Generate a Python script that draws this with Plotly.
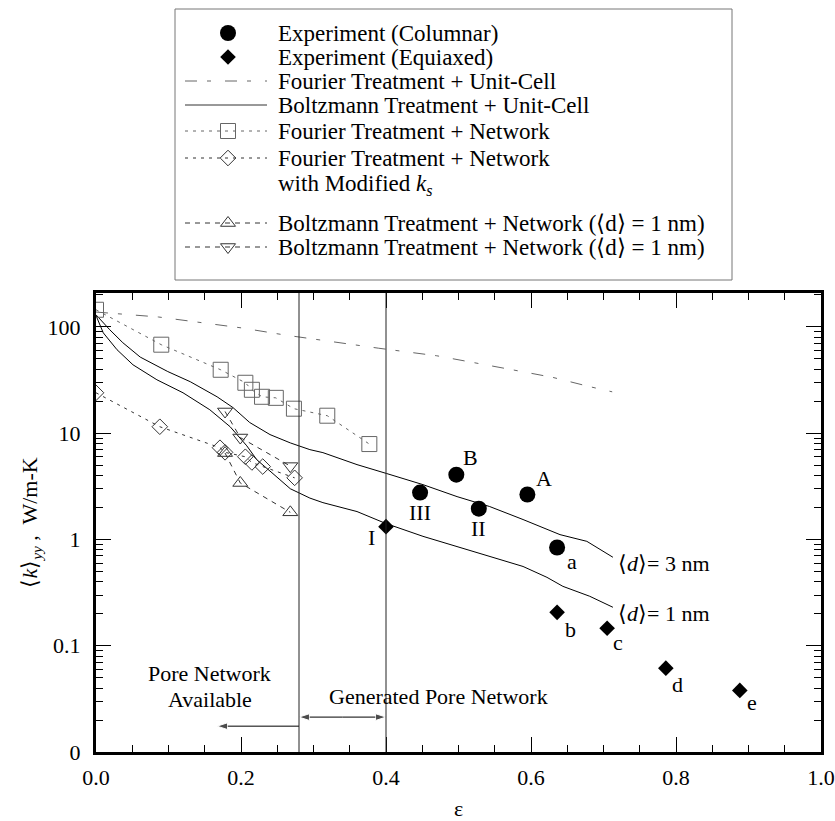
import numpy as np
import plotly.graph_objects as go

# ---------------- data ----------------
col_eps = [0.447, 0.497, 0.528, 0.595, 0.636]
col_k = [2.76, 4.07, 1.95, 2.65, 0.84]
col_labels = ["III", "B", "II", "A", "a"]

equ_eps = [0.40, 0.636, 0.705, 0.786, 0.888]
equ_k = [1.32, 0.206, 0.146, 0.0615, 0.038]
equ_labels = ["I", "b", "c", "d", "e"]

fuc_eps = [0.0, 0.086, 0.2, 0.26, 0.39, 0.47, 0.57, 0.63, 0.68, 0.712]
fuc_k = [138, 124, 98, 84, 63, 53.5, 40, 33.5, 27.5, 24.5]

b3_eps = [0.0, 0.019, 0.037, 0.061, 0.099, 0.130, 0.167, 0.189, 0.212, 0.240,
          0.268, 0.295, 0.313, 0.360, 0.401, 0.451, 0.498, 0.543, 0.589, 0.640,
          0.677, 0.713]
b3_k = [130, 94, 71, 52, 38, 30.5, 22, 17.4, 12.6, 9.7,
        8.1, 7.0, 6.56, 5.06, 4.17, 3.28, 2.53, 2.04, 1.54, 1.11,
        0.96, 0.68]

b1_eps = [0.0, 0.010, 0.029, 0.051, 0.084, 0.120, 0.157, 0.185, 0.208, 0.222,
          0.240, 0.268, 0.295, 0.313, 0.360, 0.399, 0.451, 0.498, 0.543, 0.589,
          0.622, 0.644, 0.681, 0.713]
b1_k = [128, 88, 61, 44, 31.8, 24, 16.6, 11.5, 7.6, 5.6,
        4.4, 3.0, 2.45, 2.22, 1.83, 1.42, 1.07, 0.86, 0.69, 0.557,
        0.44, 0.362, 0.292, 0.23]

fnet_eps = [0.0, 0.09, 0.172, 0.206, 0.215, 0.229, 0.248, 0.273, 0.319, 0.377]
fnet_k = [145, 68, 39.5, 29.8, 25.6, 22, 21.5, 17, 14.6, 7.9]

fmod_eps = [0.0, 0.088, 0.171, 0.178, 0.206, 0.215, 0.230, 0.274]
fmod_k = [24, 11.5, 7.3, 6.6, 6.0, 5.3, 4.85, 3.8]

bup_eps = [0.178, 0.199, 0.268]
bup_k = [6.5, 3.4, 1.8]

bdn_eps = [0.178, 0.199, 0.268]
bdn_k = [16.0, 9.1, 4.9]

# region markers (porosity limits of the pore-network range)
pore_limit_eps = [0.28, 0.40]
available_arrow_eps = [0.28, 0.167]
available_arrow_k = 0.0175
generated_arrow_k = 0.0213

legend_names = [
    "Experiment (Columnar)",
    "Experiment (Equiaxed)",
    "Fourier Treatment + Unit-Cell",
    "Boltzmann Treatment + Unit-Cell",
    "Fourier Treatment + Network",
    "Fourier Treatment + Network",
    "with Modified <i>k</i><sub><i>s</i></sub>",
    "Boltzmann Treatment + Network (\u27e8d\u27e9 = 1 nm)",
    "Boltzmann Treatment + Network (\u27e8d\u27e9 = 1 nm)",
]

x_tick_vals = [0.0, 0.2, 0.4, 0.6, 0.8, 1.0]
x_tick_text = ["0.0", "0.2", "0.4", "0.6", "0.8", "1.0"]
y_tick_vals = [0.01, 0.1, 1, 10, 100]
y_tick_text = ["0", "0.1", "1", "10", "100"]

# ---------------- styling ----------------
FONT = "Liberation Serif, Times New Roman, serif"
GRAY = "#666666"
DARK = "#333333"
FUC_DASH = "12px,10px,4px,14px"
NET_DASH = "3px,5px"
TRI_DASH = "5px,5px"

fig = go.Figure()

# main plot traces
fig.add_trace(go.Scatter(x=fuc_eps, y=fuc_k, mode="lines",
                         line=dict(color=GRAY, width=1, dash=FUC_DASH)))
fig.add_trace(go.Scatter(x=b3_eps, y=b3_k, mode="lines",
                         line=dict(color="black", width=1)))
fig.add_trace(go.Scatter(x=b1_eps, y=b1_k, mode="lines",
                         line=dict(color="black", width=1)))
fig.add_trace(go.Scatter(x=fnet_eps, y=fnet_k, mode="lines+markers",
                         line=dict(color=GRAY, width=1, dash=NET_DASH),
                         marker=dict(symbol="square-open", size=15, color=GRAY,
                                     line=dict(width=1, color=GRAY))))
fig.add_trace(go.Scatter(x=fmod_eps, y=fmod_k, mode="lines+markers",
                         line=dict(color=DARK, width=1, dash=NET_DASH),
                         marker=dict(symbol="diamond-open", size=12, color=DARK,
                                     line=dict(width=1, color=DARK))))
fig.add_trace(go.Scatter(x=bup_eps, y=bup_k, mode="lines+markers",
                         line=dict(color=DARK, width=1, dash=TRI_DASH),
                         marker=dict(symbol="triangle-up-open", size=13, color=DARK,
                                     line=dict(width=1, color=DARK))))
fig.add_trace(go.Scatter(x=bdn_eps, y=bdn_k, mode="lines+markers",
                         line=dict(color=DARK, width=1, dash=TRI_DASH),
                         marker=dict(symbol="triangle-down-open", size=13, color=DARK,
                                     line=dict(width=1, color=DARK))))
fig.add_trace(go.Scatter(x=col_eps, y=col_k, mode="markers",
                         marker=dict(symbol="circle", size=16, color="black")))
fig.add_trace(go.Scatter(x=equ_eps, y=equ_k, mode="markers",
                         marker=dict(symbol="diamond", size=12, color="black")))

# arrows (line + arrow-head marker at the tip)
ARROW = dict(color="black", angleref="previous")


def arrow(x_from, x_to, yval):
    fig.add_trace(go.Scatter(x=[x_from, x_to], y=[yval, yval], mode="lines+markers",
                             line=dict(color="black", width=1),
                             marker=dict(symbol=["circle", "arrow"], size=[0, 11], **ARROW)))


arrow(available_arrow_eps[0], available_arrow_eps[1], available_arrow_k)
mid = 0.5 * (pore_limit_eps[0] + pore_limit_eps[1])
arrow(mid, pore_limit_eps[0], generated_arrow_k)
arrow(mid, pore_limit_eps[1], generated_arrow_k)

# ---------------- manual legend (on its own hidden axes) ----------------
row_y = [33, 57, 81, 105, 131, 158, 185, 223, 247]
sx0, sx1, smid, tx = 185, 267, 228, 276


def sample(row, line=None, marker=None):
    y = row_y[row]
    if line is not None:
        fig.add_trace(go.Scatter(x=[sx0, sx1], y=[y, y], mode="lines", line=line,
                                 xaxis="x2", yaxis="y2"))
    if marker is not None:
        fig.add_trace(go.Scatter(x=[smid], y=[y], mode="markers", marker=marker,
                                 xaxis="x2", yaxis="y2"))


sample(0, marker=dict(symbol="circle", size=16, color="black"))
sample(1, marker=dict(symbol="diamond", size=12, color="black"))
sample(2, line=dict(color=GRAY, width=1, dash=FUC_DASH))
sample(3, line=dict(color=DARK, width=1))
sample(4, line=dict(color=GRAY, width=1, dash=NET_DASH),
       marker=dict(symbol="square-open", size=15, color=GRAY, line=dict(width=1, color=GRAY)))
sample(5, line=dict(color=DARK, width=1, dash=NET_DASH),
       marker=dict(symbol="diamond-open", size=12, color=DARK, line=dict(width=1, color=DARK)))
sample(7, line=dict(color=DARK, width=1, dash=TRI_DASH),
       marker=dict(symbol="triangle-up-open", size=13, color=DARK, line=dict(width=1, color=DARK)))
sample(8, line=dict(color=DARK, width=1, dash=TRI_DASH),
       marker=dict(symbol="triangle-down-open", size=13, color=DARK, line=dict(width=1, color=DARK)))

annotations = []
for i, name in enumerate(legend_names):
    annotations.append(dict(x=tx, y=row_y[i], xref="x2", yref="y2", text=name,
                            showarrow=False, xanchor="left", yanchor="middle",
                            font=dict(family=FONT, size=23, color="black")))

shapes = [dict(type="rect", xref="x2", yref="y2", x0=175, x1=732, y0=9, y1=280,
               line=dict(color="#777777", width=1), fillcolor="rgba(0,0,0,0)")]

# vertical boundary lines
for xv in pore_limit_eps:
    shapes.append(dict(type="line", xref="x", yref="y domain", x0=xv, x1=xv, y0=0, y1=1,
                       line=dict(color="#222222", width=1)))

# point labels
lab_font = dict(family=FONT, size=22, color="black")
col_off = {"III": (0, -20), "B": (14, 17), "II": (0, -20), "A": (17, 16), "a": (15, -14)}
equ_off = {"I": (-15, -11), "b": (13, -17), "c": (11, -14), "d": (12, -16), "e": (12, -12)}
for e, k, lab in zip(col_eps, col_k, col_labels):
    dx, dy = col_off[lab]
    annotations.append(dict(x=e, y=np.log10(k), xref="x", yref="y", text=lab, showarrow=False,
                            xshift=dx, yshift=dy, font=lab_font))
for e, k, lab in zip(equ_eps, equ_k, equ_labels):
    dx, dy = equ_off[lab]
    annotations.append(dict(x=e, y=np.log10(k), xref="x", yref="y", text=lab, showarrow=False,
                            xshift=dx, yshift=dy, font=lab_font))

# curve labels
for eps_arr, k_arr, txt in ((b3_eps, b3_k, "\u27e8<i>d</i>\u27e9= 3 nm"),
                            (b1_eps, b1_k, "\u27e8<i>d</i>\u27e9= 1 nm")):
    annotations.append(dict(x=eps_arr[-1], y=np.log10(k_arr[-1]), xref="x", yref="y", text=txt,
                            showarrow=False, xanchor="left", yanchor="middle",
                            xshift=3, yshift=-6, font=lab_font))

# region annotations
annotations += [
    dict(x=0.157, y=np.log10(0.0545), xref="x", yref="y", text="Pore Network",
         showarrow=False, font=lab_font),
    dict(x=0.157, y=np.log10(0.0312), xref="x", yref="y", text="Available",
         showarrow=False, font=lab_font),
    dict(x=0.472, y=np.log10(0.0336), xref="x", yref="y", text="Generated Pore Network",
         showarrow=False, font=lab_font),
]

y_minor = [m * 10.0 ** p for p in range(-2, 3) for m in range(2, 10) if m * 10.0 ** p < 209]
x_minor = [round(v, 2) for v in np.arange(0.05, 1.0, 0.05) if round(v * 100) % 20 != 0]

axis_common = dict(showline=True, linewidth=3, linecolor="black", mirror="allticks",
                   ticks="inside", ticklen=15, tickwidth=1, tickcolor="black",
                   showgrid=False, zeroline=False,
                   tickfont=dict(family=FONT, size=22, color="black"))

fig.update_layout(
    width=835, height=821, autosize=False,
    margin=dict(l=96, r=14, t=0, b=69),
    paper_bgcolor="white", plot_bgcolor="white",
    showlegend=False,
    xaxis=dict(range=[0, 1], tickmode="array", tickvals=x_tick_vals, ticktext=x_tick_text,
               minor=dict(tickmode="array", tickvals=x_minor, ticks="inside", ticklen=7,
                          tickcolor="black"),
               title=dict(text="\u03b5", standoff=12,
                          font=dict(family=FONT, size=22, color="black")),
               ticklabelstandoff=4, domain=[0, 1], **axis_common),
    yaxis=dict(type="log", range=[-2, 2.319], tickmode="array", tickvals=y_tick_vals,
               ticktext=y_tick_text,
               minor=dict(tickmode="array", tickvals=y_minor, ticks="inside", ticklen=7,
                          tickcolor="black"),
               title=dict(text="\u27e8<i>k</i>\u27e9<sub><i>yy</i></sub> ,  W/m-K", standoff=4,
                          font=dict(family=FONT, size=22, color="black")),
               ticklabelstandoff=8, domain=[0, 459 / 752], **axis_common),
    xaxis2=dict(range=[96, 821], domain=[0, 1], visible=False, anchor="y2", fixedrange=True),
    yaxis2=dict(range=[290, 0], domain=[462 / 752, 1], visible=False, anchor="x2",
                fixedrange=True),
    shapes=shapes,
    annotations=annotations,
)

fig.write_html("out.html")
